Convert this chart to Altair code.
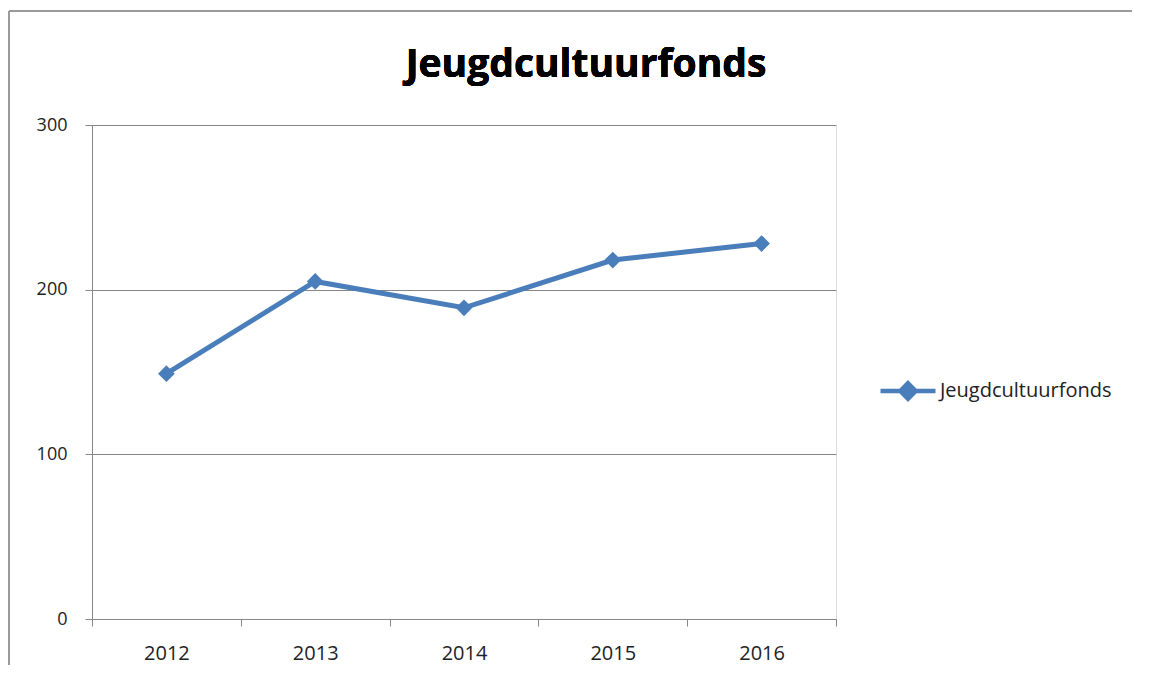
import altair as alt
import pandas as pd

years = ["2012", "2013", "2014", "2015", "2016"]
values = [149, 205, 189, 218, 228]
series_name = "Jeugdcultuurfonds"
y_ticks = [0, 100, 200, 300]

df = pd.DataFrame({"year": years, "value": values, "series": [series_name] * len(years)})

BLUE = "#4A7EBB"
GRID = "#868686"
FONT = "Open Sans"

legend_path = "M-1,0H1M0,-0.28L0.28,0L0,0.28L-0.28,0Z"

x_enc = alt.X(
    "year:O",
    bandPosition=0.5,
    scale=alt.Scale(type="band", paddingInner=0, paddingOuter=0),
    axis=alt.Axis(
        title=None, labelAngle=0, tickBand="extent", tickSize=7, tickColor=GRID,
        domainColor=GRID, labelFont=FONT, labelFontSize=20, labelColor="#222",
        labelPadding=17, grid=False,
    ),
)
y_enc = alt.Y(
    "value:Q",
    scale=alt.Scale(domain=[0, 300], nice=False),
    axis=alt.Axis(
        title=None, values=y_ticks, tickSize=7, tickColor=GRID, domainColor=GRID,
        grid=True, gridColor=GRID, gridWidth=1, labelFont=FONT, labelFontSize=18,
        labelColor="#222", labelPadding=18,
    ),
)

base = alt.Chart(df)

line = base.mark_line(color=BLUE, strokeWidth=5).encode(x=x_enc, y=y_enc)
points = base.mark_point(filled=True, shape="diamond", size=280, opacity=1).encode(
    x=x_enc,
    y=y_enc,
    color=alt.Color(
        "series:N",
        scale=alt.Scale(range=[BLUE]),
        legend=alt.Legend(
            title=None, orient="none", legendX=786, legendY=236,
            symbolType=legend_path, symbolSize=3025, symbolStrokeWidth=4.5,
            symbolStrokeColor=BLUE, symbolFillColor=BLUE, symbolOpacity=1,
            labelFont=FONT, labelFontSize=20, labelColor="#222", labelOffset=2,
            labelLimit=400,
        ),
    ),
)

title = alt.Chart(df).mark_text(
    font=FONT, fontSize=39, fontWeight="bold", color="#000",
    align="center", baseline="alphabetic",
).encode(text=alt.value(series_name), x=alt.value(494), y=alt.value(-48))

frame_left = alt.Chart(df).mark_rule(color="#9a9a9a", strokeWidth=1.5).encode(
    x=alt.value(-83), y=alt.value(-114), y2=alt.value(560)
)
frame_top = alt.Chart(df).mark_rule(color="#9a9a9a", strokeWidth=1.5).encode(
    x=alt.value(-83), x2=alt.value(1040), y=alt.value(-114)
)

chart = (
    alt.layer(frame_left, frame_top, line, points, title)
    .properties(
        width=744,
        height=494,
        autosize=alt.AutoSizeParams(type="none"),
        padding={"left": 84, "top": 117, "right": 310, "bottom": 46},
    )
    .configure_view(stroke=None)
    .configure(background="white")
)

chart.save("out.html", embed_options={"renderer": "svg", "actions": False})
